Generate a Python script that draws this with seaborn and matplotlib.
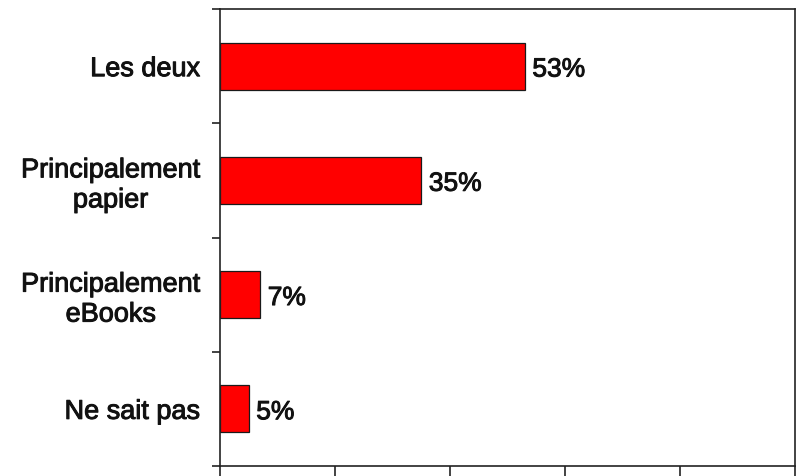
import matplotlib
matplotlib.use("Agg")
import matplotlib.pyplot as plt
import matplotlib.patheffects as pe
import seaborn as sns
import pandas as pd
import numpy as np

categories = ["Les deux", "Principalement\npapier", "Principalement\neBooks", "Ne sait pas"]
values = [53, 35, 7, 5]
value_labels = ["53%", "35%", "7%", "5%"]

sns.set_theme(style="white")
plt.rcParams['font.family'] = ['Liberation Sans', 'DejaVu Sans']

df = pd.DataFrame({"cat": categories, "val": values})

fig = plt.figure(figsize=(8, 4.77), dpi=100)
ax = fig.add_axes([0.275, 0.021, 0.719, 0.958])
sns.barplot(data=df, y="cat", x="val", orient="h", color="#ff0000",
            saturation=1, width=0.41, edgecolor="#1a1a1a", linewidth=0.9, ax=ax)

thick = [pe.withStroke(linewidth=0.7, foreground="#111111")]

ax.set_xlim(0, 100)
ax.set_ylim(len(categories) - 0.5, -0.5)
ax.set_xticks(np.arange(0, 101, 20))
ax.set_xticklabels([])
ax.set_xlabel("")
ax.set_ylabel("")
ax.set_yticks(range(len(categories)))
ax.set_yticklabels(categories, fontsize=19.5, multialignment="center", color="#111111")
for t in ax.get_yticklabels():
    t.set_path_effects(thick)
ax.set_yticks(np.arange(-0.5, len(categories), 1), minor=True)
ax.tick_params(axis="y", which="major", length=0, pad=14)
ax.tick_params(axis="y", which="minor", length=6, width=1.2, direction="out", color="#222222", left=True)
ax.tick_params(axis="x", which="major", length=7, width=1.2, direction="out", color="#222222", bottom=True)
for s in ax.spines.values():
    s.set_visible(True)
    s.set_color("#222222")
    s.set_linewidth(1.2)

for p, lab in zip(ax.patches, value_labels):
    ax.text(p.get_width() + 1.3, p.get_y() + p.get_height() / 2 + 0.03, lab,
            va="center", ha="left", fontsize=19, color="#111111", path_effects=thick)

fig.savefig("out.png", dpi=100, facecolor="white")
